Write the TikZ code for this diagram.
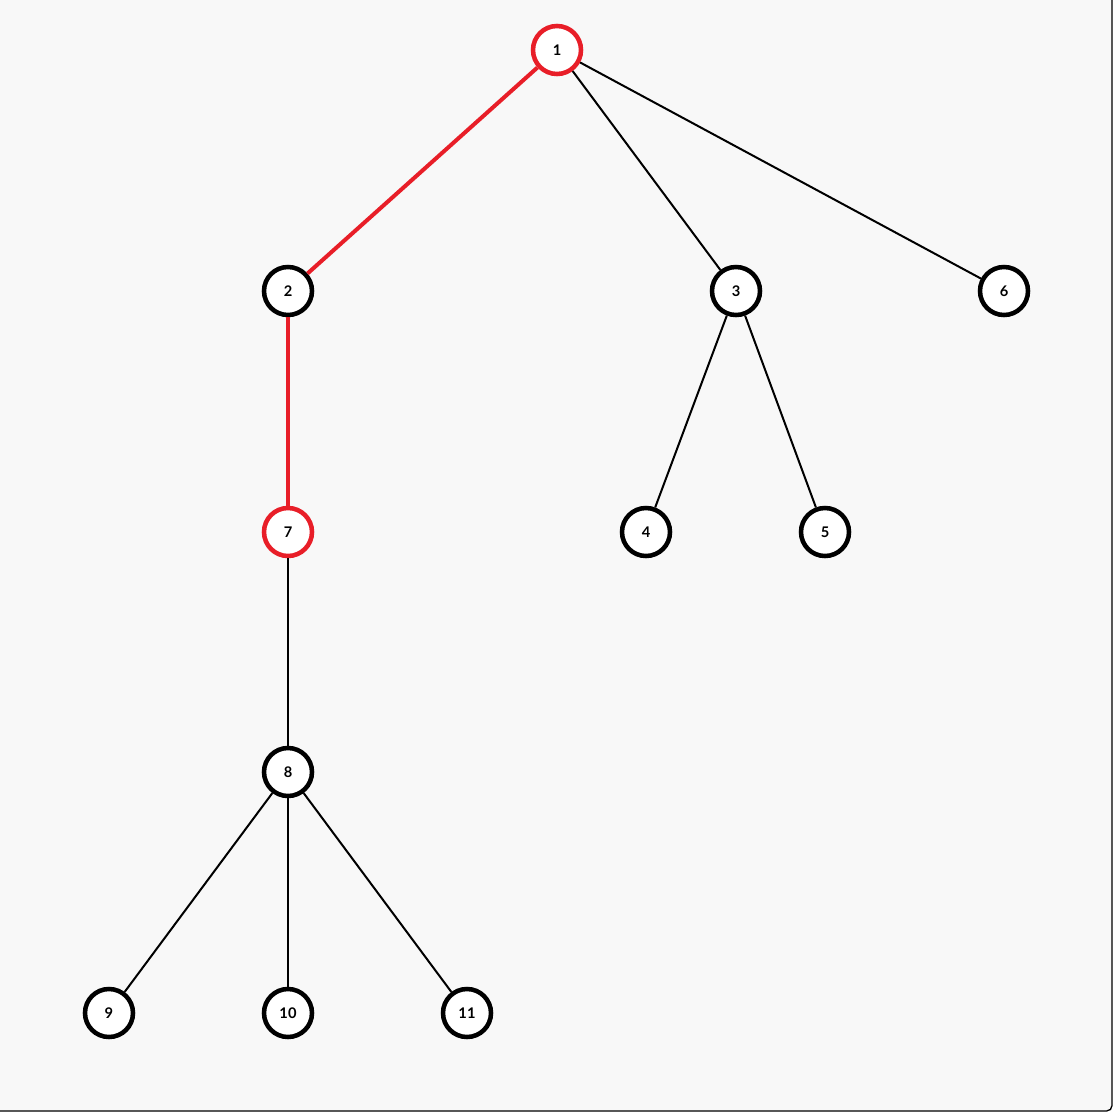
\documentclass[tikz,border=0pt]{standalone}
\usepackage{fontspec}
\setmainfont{Lato}
\definecolor{bg}{RGB}{248,248,248}
\definecolor{hl}{RGB}{232,30,40}
\begin{document}
\begin{tikzpicture}[x=0.75pt,y=-0.75pt,
  vtx/.style={circle,draw=black,line width=3.4pt,fill=white,minimum size=48*0.75pt,inner sep=0pt,font=\bfseries\fontsize{11}{13}\selectfont},
  hlvtx/.style={vtx,draw=hl},
  edge/.style={line width=1.5pt,black},
  hledge/.style={line width=3pt,hl}]
\useasboundingbox (0,0) rectangle (1114,1114);
\begin{scope}
\clip (0,0) rectangle (1114,1114);
\draw[fill=bg,line width=1pt,rounded corners=4pt] (-10,-10) rectangle (1112,1111);
\end{scope}
\node[hlvtx] (n1) at (557,50) {1};
\node[vtx] (n2) at (288,291) {2};
\node[vtx] (n3) at (736,291) {3};
\node[vtx] (n6) at (1004,291) {6};
\node[hlvtx] (n7) at (288,532) {7};
\node[vtx] (n4) at (646,532) {4};
\node[vtx] (n5) at (825,532) {5};
\node[vtx] (n8) at (288,772) {8};
\node[vtx] (n9) at (109,1013) {9};
\node[vtx] (n10) at (288,1013) {10};
\node[vtx] (n11) at (467,1013) {11};
\draw[edge] (n1) -- (n3);
\draw[edge] (n1) -- (n6);
\draw[edge] (n3) -- (n4);
\draw[edge] (n3) -- (n5);
\draw[edge] (n7) -- (n8);
\draw[edge] (n8) -- (n9);
\draw[edge] (n8) -- (n10);
\draw[edge] (n8) -- (n11);
\draw[hledge] (n1) -- (n2);
\draw[hledge] (n2) -- (n7);
\end{tikzpicture}
\end{document}
